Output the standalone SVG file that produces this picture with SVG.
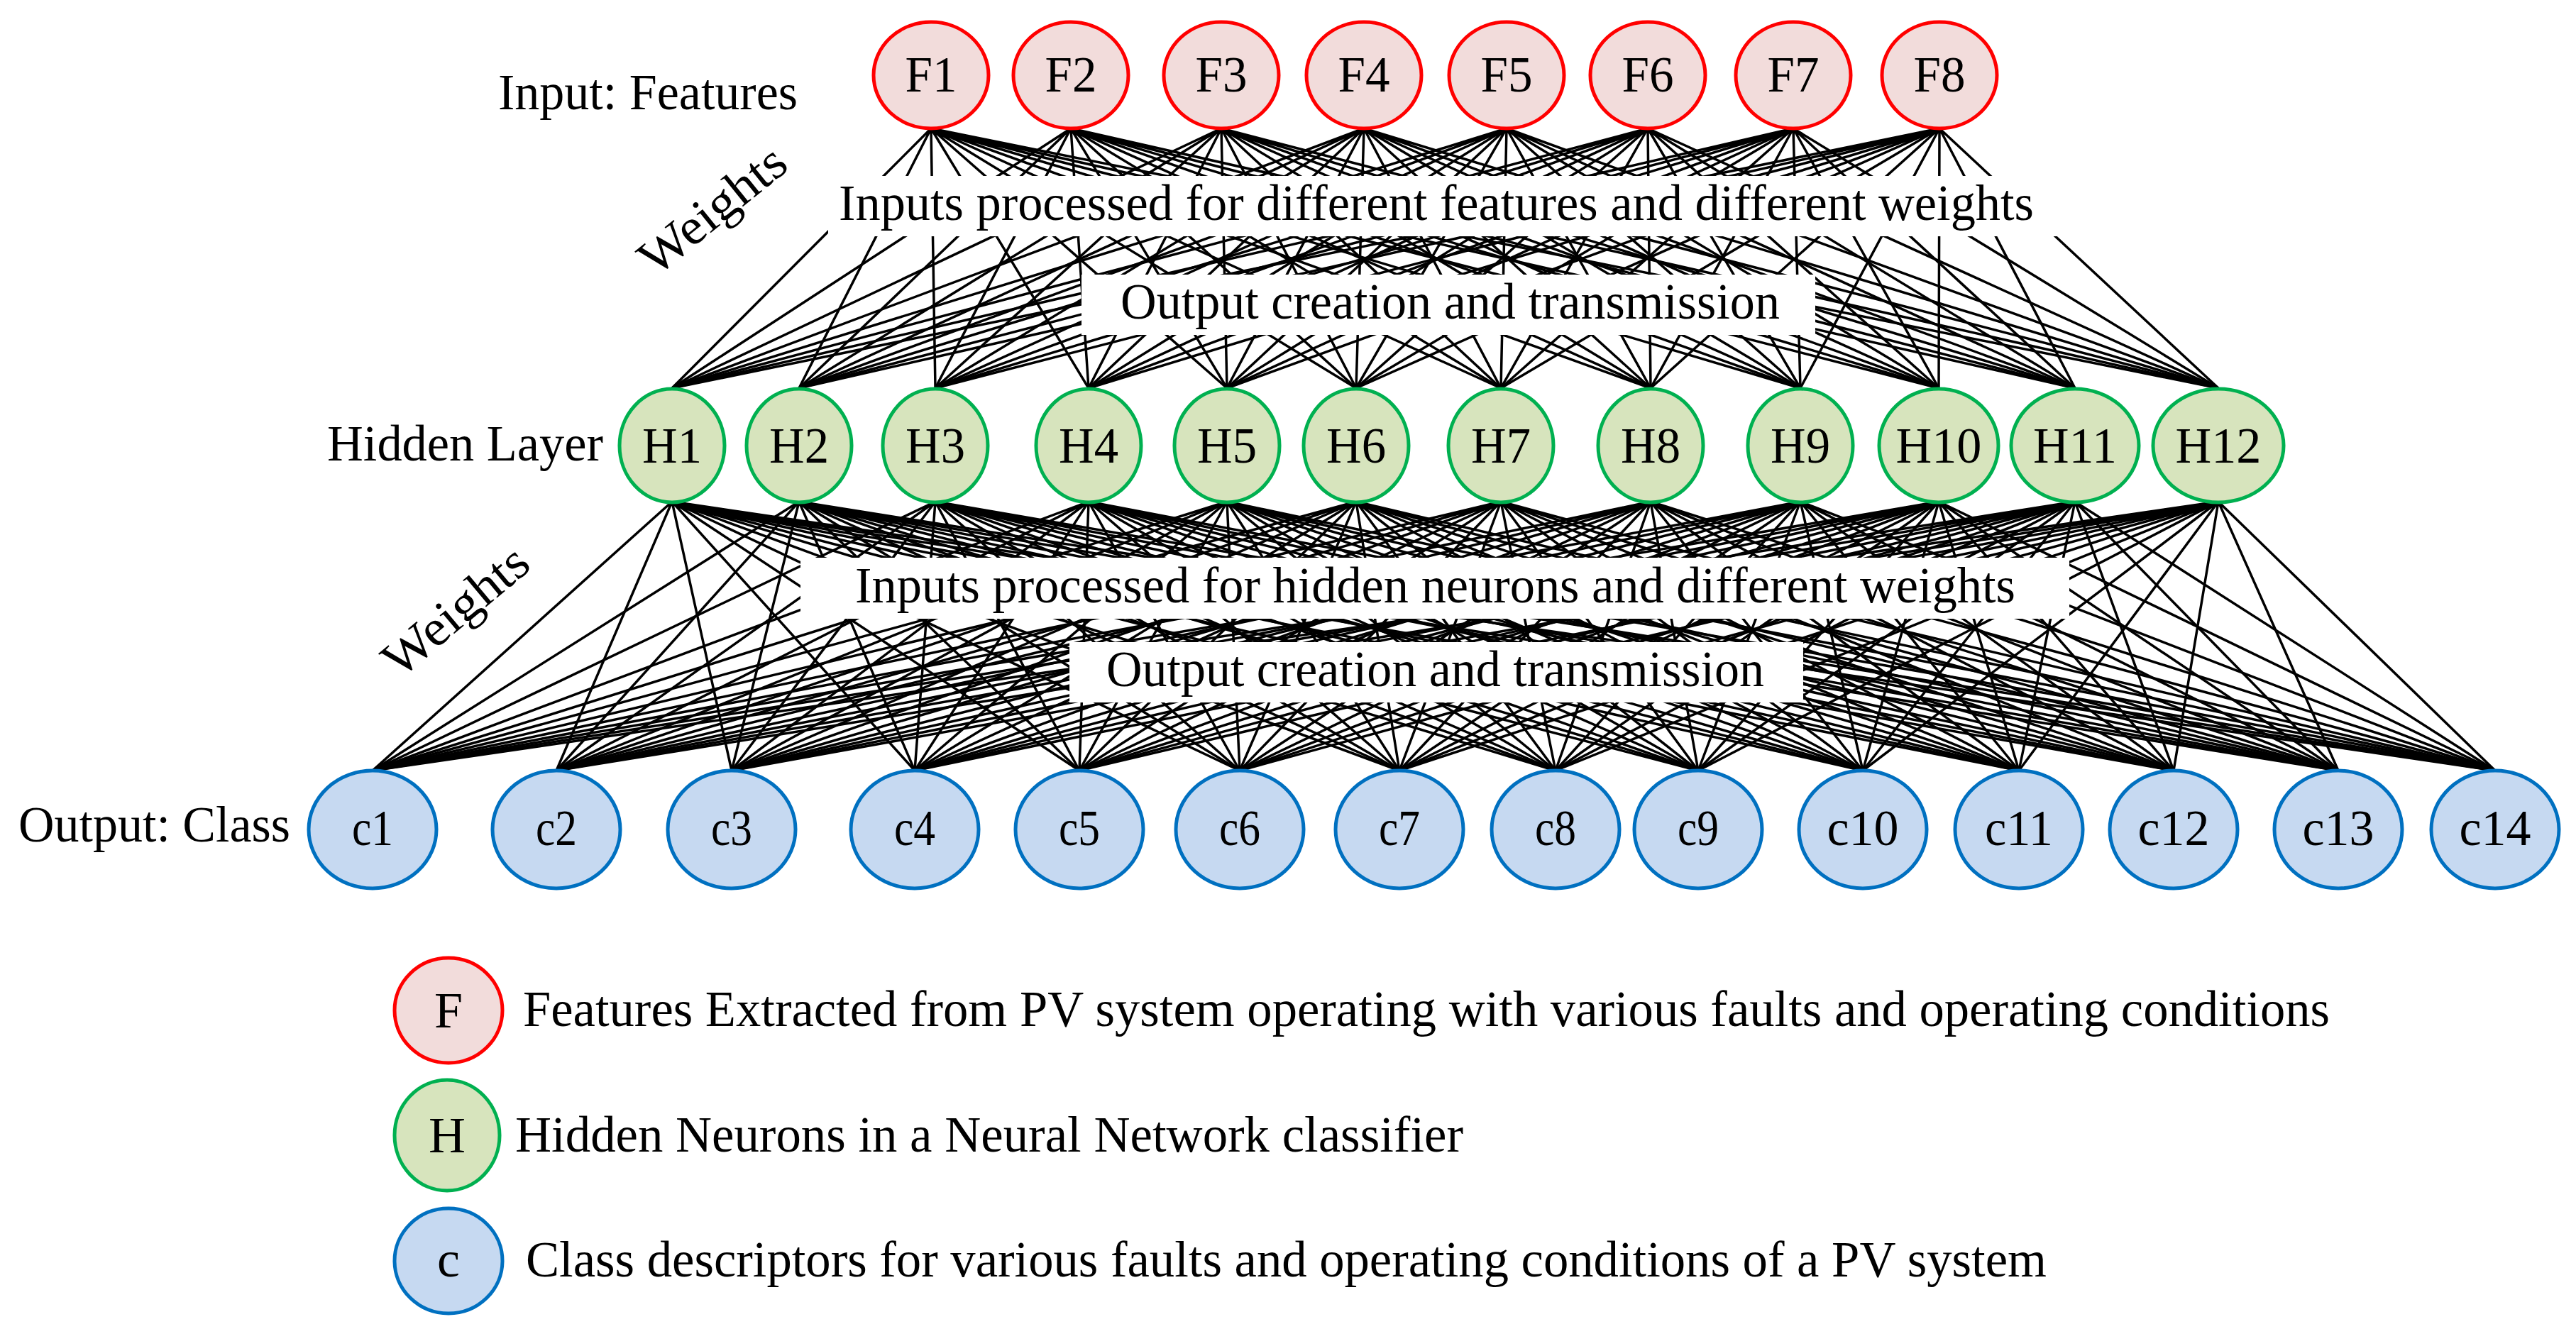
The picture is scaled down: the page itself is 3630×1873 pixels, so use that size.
<svg xmlns="http://www.w3.org/2000/svg" width="3630" height="1873" viewBox="0 0 3630 1873">
<style>
text{font-family:"Liberation Serif","Times New Roman",serif;font-size:72px;fill:#000}
.m{text-anchor:middle}
.ln{stroke:#000;stroke-width:3.5;fill:none}
.f{fill:#f2dcdb;stroke:#ff0000;stroke-width:5}
.h{fill:#d7e4bd;stroke:#00b050;stroke-width:5}
.c{fill:#c6d9f1;stroke:#0070c0;stroke-width:5}
</style>
<rect width="3630" height="1873" fill="#fff"/>
<g id="connectors" class="ln">
<path d="M1312 181L947 547M1312 181L1126 547M1312 181L1318 547M1312 181L1534 547M1312 181L1729 547M1312 181L1911 547M1312 181L2115 547M1312 181L2326 547M1312 181L2537 547M1312 181L2732 547M1312 181L2924 547M1312 181L3126 547"/>
<path d="M1509 181L947 547M1509 181L1126 547M1509 181L1318 547M1509 181L1534 547M1509 181L1729 547M1509 181L1911 547M1509 181L2115 547M1509 181L2326 547M1509 181L2537 547M1509 181L2732 547M1509 181L2924 547M1509 181L3126 547"/>
<path d="M1721 181L947 547M1721 181L1126 547M1721 181L1318 547M1721 181L1534 547M1721 181L1729 547M1721 181L1911 547M1721 181L2115 547M1721 181L2326 547M1721 181L2537 547M1721 181L2732 547M1721 181L2924 547M1721 181L3126 547"/>
<path d="M1922 181L947 547M1922 181L1126 547M1922 181L1318 547M1922 181L1534 547M1922 181L1729 547M1922 181L1911 547M1922 181L2115 547M1922 181L2326 547M1922 181L2537 547M1922 181L2732 547M1922 181L2924 547M1922 181L3126 547"/>
<path d="M2123 181L947 547M2123 181L1126 547M2123 181L1318 547M2123 181L1534 547M2123 181L1729 547M2123 181L1911 547M2123 181L2115 547M2123 181L2326 547M2123 181L2537 547M2123 181L2732 547M2123 181L2924 547M2123 181L3126 547"/>
<path d="M2322 181L947 547M2322 181L1126 547M2322 181L1318 547M2322 181L1534 547M2322 181L1729 547M2322 181L1911 547M2322 181L2115 547M2322 181L2326 547M2322 181L2537 547M2322 181L2732 547M2322 181L2924 547M2322 181L3126 547"/>
<path d="M2527 181L947 547M2527 181L1126 547M2527 181L1318 547M2527 181L1534 547M2527 181L1729 547M2527 181L1911 547M2527 181L2115 547M2527 181L2326 547M2527 181L2537 547M2527 181L2732 547M2527 181L2924 547M2527 181L3126 547"/>
<path d="M2733 181L947 547M2733 181L1126 547M2733 181L1318 547M2733 181L1534 547M2733 181L1729 547M2733 181L1911 547M2733 181L2115 547M2733 181L2326 547M2733 181L2537 547M2733 181L2732 547M2733 181L2924 547M2733 181L3126 547"/>
<path d="M947 707L525 1086M947 707L784 1086M947 707L1031 1086M947 707L1289 1086M947 707L1521 1086M947 707L1747 1086M947 707L1972 1086M947 707L2192 1086M947 707L2393 1086M947 707L2625 1086M947 707L2845 1086M947 707L3063 1086M947 707L3295 1086M947 707L3516 1086"/>
<path d="M1126 707L525 1086M1126 707L784 1086M1126 707L1031 1086M1126 707L1289 1086M1126 707L1521 1086M1126 707L1747 1086M1126 707L1972 1086M1126 707L2192 1086M1126 707L2393 1086M1126 707L2625 1086M1126 707L2845 1086M1126 707L3063 1086M1126 707L3295 1086M1126 707L3516 1086"/>
<path d="M1318 707L525 1086M1318 707L784 1086M1318 707L1031 1086M1318 707L1289 1086M1318 707L1521 1086M1318 707L1747 1086M1318 707L1972 1086M1318 707L2192 1086M1318 707L2393 1086M1318 707L2625 1086M1318 707L2845 1086M1318 707L3063 1086M1318 707L3295 1086M1318 707L3516 1086"/>
<path d="M1534 707L525 1086M1534 707L784 1086M1534 707L1031 1086M1534 707L1289 1086M1534 707L1521 1086M1534 707L1747 1086M1534 707L1972 1086M1534 707L2192 1086M1534 707L2393 1086M1534 707L2625 1086M1534 707L2845 1086M1534 707L3063 1086M1534 707L3295 1086M1534 707L3516 1086"/>
<path d="M1729 707L525 1086M1729 707L784 1086M1729 707L1031 1086M1729 707L1289 1086M1729 707L1521 1086M1729 707L1747 1086M1729 707L1972 1086M1729 707L2192 1086M1729 707L2393 1086M1729 707L2625 1086M1729 707L2845 1086M1729 707L3063 1086M1729 707L3295 1086M1729 707L3516 1086"/>
<path d="M1911 707L525 1086M1911 707L784 1086M1911 707L1031 1086M1911 707L1289 1086M1911 707L1521 1086M1911 707L1747 1086M1911 707L1972 1086M1911 707L2192 1086M1911 707L2393 1086M1911 707L2625 1086M1911 707L2845 1086M1911 707L3063 1086M1911 707L3295 1086M1911 707L3516 1086"/>
<path d="M2115 707L525 1086M2115 707L784 1086M2115 707L1031 1086M2115 707L1289 1086M2115 707L1521 1086M2115 707L1747 1086M2115 707L1972 1086M2115 707L2192 1086M2115 707L2393 1086M2115 707L2625 1086M2115 707L2845 1086M2115 707L3063 1086M2115 707L3295 1086M2115 707L3516 1086"/>
<path d="M2326 707L525 1086M2326 707L784 1086M2326 707L1031 1086M2326 707L1289 1086M2326 707L1521 1086M2326 707L1747 1086M2326 707L1972 1086M2326 707L2192 1086M2326 707L2393 1086M2326 707L2625 1086M2326 707L2845 1086M2326 707L3063 1086M2326 707L3295 1086M2326 707L3516 1086"/>
<path d="M2537 707L525 1086M2537 707L784 1086M2537 707L1031 1086M2537 707L1289 1086M2537 707L1521 1086M2537 707L1747 1086M2537 707L1972 1086M2537 707L2192 1086M2537 707L2393 1086M2537 707L2625 1086M2537 707L2845 1086M2537 707L3063 1086M2537 707L3295 1086M2537 707L3516 1086"/>
<path d="M2732 707L525 1086M2732 707L784 1086M2732 707L1031 1086M2732 707L1289 1086M2732 707L1521 1086M2732 707L1747 1086M2732 707L1972 1086M2732 707L2192 1086M2732 707L2393 1086M2732 707L2625 1086M2732 707L2845 1086M2732 707L3063 1086M2732 707L3295 1086M2732 707L3516 1086"/>
<path d="M2924 707L525 1086M2924 707L784 1086M2924 707L1031 1086M2924 707L1289 1086M2924 707L1521 1086M2924 707L1747 1086M2924 707L1972 1086M2924 707L2192 1086M2924 707L2393 1086M2924 707L2625 1086M2924 707L2845 1086M2924 707L3063 1086M2924 707L3295 1086M2924 707L3516 1086"/>
<path d="M3126 707L525 1086M3126 707L784 1086M3126 707L1031 1086M3126 707L1289 1086M3126 707L1521 1086M3126 707L1747 1086M3126 707L1972 1086M3126 707L2192 1086M3126 707L2393 1086M3126 707L2625 1086M3126 707L2845 1086M3126 707L3063 1086M3126 707L3295 1086M3126 707L3516 1086"/>
</g>
<g id="boxes" fill="#fff">
<rect x="1167" y="248" width="1734" height="85"/>
<rect x="1524" y="387" width="1034" height="85"/>
<rect x="1128" y="786" width="1788" height="86"/>
<rect x="1507" y="905" width="1034" height="85"/>
</g>
<g id="box-labels">
<text x="1182" y="310" textLength="1684" lengthAdjust="spacingAndGlyphs">Inputs processed for different features and different weights</text>
<text x="1579" y="449" textLength="929" lengthAdjust="spacingAndGlyphs">Output creation and transmission</text>
<text x="1205" y="849" textLength="1635" lengthAdjust="spacingAndGlyphs">Inputs processed for hidden neurons and different weights</text>
<text x="1559" y="967" textLength="927" lengthAdjust="spacingAndGlyphs">Output creation and transmission</text>
<text class="m" transform="translate(1005 297) rotate(-39)" y="22" textLength="245" lengthAdjust="spacingAndGlyphs">Weights</text>
<text class="m" transform="translate(643 862) rotate(-40)" y="22" textLength="245" lengthAdjust="spacingAndGlyphs">Weights</text>
</g>
<g id="layer-labels">
<text x="702" y="154" textLength="422" lengthAdjust="spacingAndGlyphs">Input: Features</text>
<text x="461" y="649" textLength="389" lengthAdjust="spacingAndGlyphs">Hidden Layer</text>
<text x="26" y="1186" textLength="383" lengthAdjust="spacingAndGlyphs">Output: Class</text>
</g>
<g id="F1"><ellipse class="f" cx="1312" cy="106" rx="81" ry="75"/><text class="m" x="1312" y="129" textLength="73" lengthAdjust="spacingAndGlyphs">F1</text></g>
<g id="F2"><ellipse class="f" cx="1509" cy="106" rx="81" ry="75"/><text class="m" x="1509" y="129" textLength="73" lengthAdjust="spacingAndGlyphs">F2</text></g>
<g id="F3"><ellipse class="f" cx="1721" cy="106" rx="81" ry="75"/><text class="m" x="1721" y="129" textLength="73" lengthAdjust="spacingAndGlyphs">F3</text></g>
<g id="F4"><ellipse class="f" cx="1922" cy="106" rx="81" ry="75"/><text class="m" x="1922" y="129" textLength="73" lengthAdjust="spacingAndGlyphs">F4</text></g>
<g id="F5"><ellipse class="f" cx="2123" cy="106" rx="81" ry="75"/><text class="m" x="2123" y="129" textLength="73" lengthAdjust="spacingAndGlyphs">F5</text></g>
<g id="F6"><ellipse class="f" cx="2322" cy="106" rx="81" ry="75"/><text class="m" x="2322" y="129" textLength="73" lengthAdjust="spacingAndGlyphs">F6</text></g>
<g id="F7"><ellipse class="f" cx="2527" cy="106" rx="81" ry="75"/><text class="m" x="2527" y="129" textLength="73" lengthAdjust="spacingAndGlyphs">F7</text></g>
<g id="F8"><ellipse class="f" cx="2733" cy="106" rx="81" ry="75"/><text class="m" x="2733" y="129" textLength="73" lengthAdjust="spacingAndGlyphs">F8</text></g>
<g id="H1"><ellipse class="h" cx="947" cy="628" rx="74" ry="80"/><text class="m" x="947" y="652" textLength="84" lengthAdjust="spacingAndGlyphs">H1</text></g>
<g id="H2"><ellipse class="h" cx="1126" cy="628" rx="74" ry="80"/><text class="m" x="1126" y="652" textLength="84" lengthAdjust="spacingAndGlyphs">H2</text></g>
<g id="H3"><ellipse class="h" cx="1318" cy="628" rx="74" ry="80"/><text class="m" x="1318" y="652" textLength="84" lengthAdjust="spacingAndGlyphs">H3</text></g>
<g id="H4"><ellipse class="h" cx="1534" cy="628" rx="74" ry="80"/><text class="m" x="1534" y="652" textLength="84" lengthAdjust="spacingAndGlyphs">H4</text></g>
<g id="H5"><ellipse class="h" cx="1729" cy="628" rx="74" ry="80"/><text class="m" x="1729" y="652" textLength="84" lengthAdjust="spacingAndGlyphs">H5</text></g>
<g id="H6"><ellipse class="h" cx="1911" cy="628" rx="74" ry="80"/><text class="m" x="1911" y="652" textLength="84" lengthAdjust="spacingAndGlyphs">H6</text></g>
<g id="H7"><ellipse class="h" cx="2115" cy="628" rx="74" ry="80"/><text class="m" x="2115" y="652" textLength="84" lengthAdjust="spacingAndGlyphs">H7</text></g>
<g id="H8"><ellipse class="h" cx="2326" cy="628" rx="74" ry="80"/><text class="m" x="2326" y="652" textLength="84" lengthAdjust="spacingAndGlyphs">H8</text></g>
<g id="H9"><ellipse class="h" cx="2537" cy="628" rx="74" ry="80"/><text class="m" x="2537" y="652" textLength="84" lengthAdjust="spacingAndGlyphs">H9</text></g>
<g id="H10"><ellipse class="h" cx="2732" cy="628" rx="84" ry="80"/><text class="m" x="2732" y="652" textLength="121" lengthAdjust="spacingAndGlyphs">H10</text></g>
<g id="H11"><ellipse class="h" cx="2924" cy="628" rx="90" ry="80"/><text class="m" x="2924" y="652" textLength="118" lengthAdjust="spacingAndGlyphs">H11</text></g>
<g id="H12"><ellipse class="h" cx="3126" cy="628" rx="92" ry="80"/><text class="m" x="3126" y="652" textLength="121" lengthAdjust="spacingAndGlyphs">H12</text></g>
<g id="c1"><ellipse class="c" cx="525" cy="1169" rx="90" ry="83"/><text class="m" x="525" y="1191" textLength="58" lengthAdjust="spacingAndGlyphs">c1</text></g>
<g id="c2"><ellipse class="c" cx="784" cy="1169" rx="90" ry="83"/><text class="m" x="784" y="1191" textLength="58" lengthAdjust="spacingAndGlyphs">c2</text></g>
<g id="c3"><ellipse class="c" cx="1031" cy="1169" rx="90" ry="83"/><text class="m" x="1031" y="1191" textLength="58" lengthAdjust="spacingAndGlyphs">c3</text></g>
<g id="c4"><ellipse class="c" cx="1289" cy="1169" rx="90" ry="83"/><text class="m" x="1289" y="1191" textLength="58" lengthAdjust="spacingAndGlyphs">c4</text></g>
<g id="c5"><ellipse class="c" cx="1521" cy="1169" rx="90" ry="83"/><text class="m" x="1521" y="1191" textLength="58" lengthAdjust="spacingAndGlyphs">c5</text></g>
<g id="c6"><ellipse class="c" cx="1747" cy="1169" rx="90" ry="83"/><text class="m" x="1747" y="1191" textLength="58" lengthAdjust="spacingAndGlyphs">c6</text></g>
<g id="c7"><ellipse class="c" cx="1972" cy="1169" rx="90" ry="83"/><text class="m" x="1972" y="1191" textLength="58" lengthAdjust="spacingAndGlyphs">c7</text></g>
<g id="c8"><ellipse class="c" cx="2192" cy="1169" rx="90" ry="83"/><text class="m" x="2192" y="1191" textLength="58" lengthAdjust="spacingAndGlyphs">c8</text></g>
<g id="c9"><ellipse class="c" cx="2393" cy="1169" rx="90" ry="83"/><text class="m" x="2393" y="1191" textLength="58" lengthAdjust="spacingAndGlyphs">c9</text></g>
<g id="c10"><ellipse class="c" cx="2625" cy="1169" rx="90" ry="83"/><text class="m" x="2625" y="1191" textLength="101" lengthAdjust="spacingAndGlyphs">c10</text></g>
<g id="c11"><ellipse class="c" cx="2845" cy="1169" rx="90" ry="83"/><text class="m" x="2845" y="1191" textLength="96" lengthAdjust="spacingAndGlyphs">c11</text></g>
<g id="c12"><ellipse class="c" cx="3063" cy="1169" rx="90" ry="83"/><text class="m" x="3063" y="1191" textLength="101" lengthAdjust="spacingAndGlyphs">c12</text></g>
<g id="c13"><ellipse class="c" cx="3295" cy="1169" rx="90" ry="83"/><text class="m" x="3295" y="1191" textLength="101" lengthAdjust="spacingAndGlyphs">c13</text></g>
<g id="c14"><ellipse class="c" cx="3516" cy="1169" rx="90" ry="83"/><text class="m" x="3516" y="1191" textLength="101" lengthAdjust="spacingAndGlyphs">c14</text></g>
<g id="legend">
<g id="legend-F"><ellipse class="f" cx="632" cy="1424" rx="76" ry="74"/><text class="m" x="632" y="1448">F</text>
<text x="737" y="1446" textLength="2546" lengthAdjust="spacingAndGlyphs">Features Extracted from PV system operating with various faults and operating conditions</text></g>
<g id="legend-H"><ellipse class="h" cx="630" cy="1600" rx="74" ry="78"/><text class="m" x="630" y="1624">H</text>
<text x="726" y="1623" textLength="1336" lengthAdjust="spacingAndGlyphs">Hidden Neurons in a Neural Network classifier</text></g>
<g id="legend-c"><ellipse class="c" cx="632" cy="1777" rx="76" ry="74"/><text class="m" x="632" y="1799">c</text>
<text x="741" y="1799" textLength="2143" lengthAdjust="spacingAndGlyphs">Class descriptors for various faults and operating conditions of a PV system</text></g>
</g>
</svg>
